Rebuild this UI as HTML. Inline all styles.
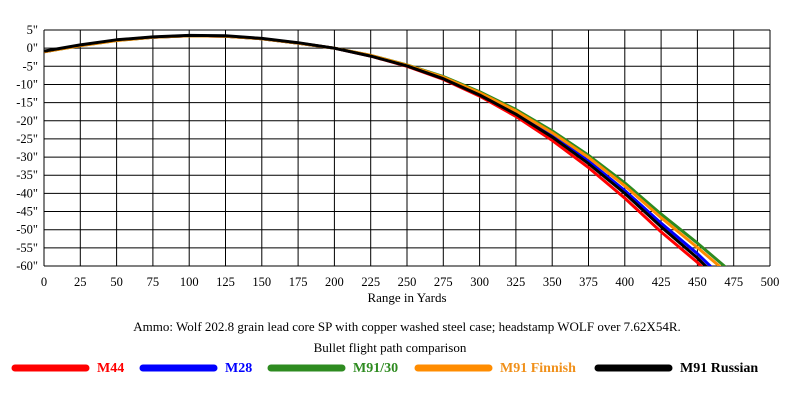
<!DOCTYPE html>
<html><head><meta charset="utf-8"><style>
body{margin:0;background:#fff;}
svg{display:block;font-family:"Liberation Serif",serif;}
</style></head><body>
<svg id="c" width="800" height="400" viewBox="0 0 800 400">
<defs><clipPath id="pc"><rect x="44" y="30" width="726" height="236"/></clipPath></defs>
<g id="grid"></g>
<g id="series" clip-path="url(#pc)"></g>
<g id="axes"></g>
<text x="407" y="302" text-anchor="middle" font-size="13">Range in Yards</text>
<text x="407" y="331" text-anchor="middle" font-size="13">Ammo:  Wolf 202.8 grain lead core SP with copper washed steel case; headstamp WOLF over 7.62X54R.</text>
<text x="390" y="352" text-anchor="middle" font-size="13">Bullet flight path comparison</text>
<g id="legend"></g>
</svg>
<script>
const yards=[0,25,50,75,100,125,150,175,200,225,250,275,300,325,350,375,400,425,450,475];
const xTicks=[0,25,50,75,100,125,150,175,200,225,250,275,300,325,350,375,400,425,450,475,500];
const yTicks=[5,0,-5,-10,-15,-20,-25,-30,-35,-40,-45,-50,-55,-60];
const seriesNames=["M44","M28","M91/30","M91 Finnish","M91 Russian"];
const seriesColors=["#ff0000","#0000ff","#2e8b20","#ff8c00","#000000"];
const m44=[-1,0.8,2.2,3,3.4,3.3,2.6,1.4,0,-2.2,-5,-8.6,-13.2,-18.8,-25.4,-32.9,-41.3,-50.6,-59,-69];
const m28=[-1,0.8,2.2,3,3.4,3.3,2.6,1.4,0,-2.1,-4.8,-8.3,-12.7,-17.9,-24,-31.1,-39.2,-48.2,-56.6,-66.2];
const m9130=[-1,0.7,2.1,3,3.4,3.3,2.6,1.4,0,-2,-4.6,-7.8,-12,-16.9,-22.8,-29.5,-37.1,-45.7,-53.7,-62.2];
const m91fin=[-1,0.7,2.1,3,3.4,3.3,2.6,1.4,0,-2,-4.7,-8,-12.3,-17.3,-23.3,-30.1,-37.9,-46.7,-54.9,-63.4];
const m91rus=[-0.8,0.9,2.3,3.1,3.5,3.4,2.7,1.5,0,-2.2,-4.9,-8.4,-12.9,-18.2,-24.5,-31.8,-40,-49.2,-57.8,-67.6];
const allSeries=[m44,m28,m9130,m91fin,m91rus];
const NS="http://www.w3.org/2000/svg";
const X0=44,X1=770,Y0=30,Y1=266;
const xs=v=>X0+(v/500)*(X1-X0);
const ys=v=>Y0+((5-v)/65)*(Y1-Y0);
function mk(t,a,p){const e=document.createElementNS(NS,t);for(const k in a)e.setAttribute(k,a[k]);p.appendChild(e);return e;}
const grid=document.getElementById('grid'),axes=document.getElementById('axes'),ser=document.getElementById('series'),leg=document.getElementById('legend');
xTicks.forEach(t=>{const l=mk('line',{x1:xs(t),x2:xs(t),y1:Y0,y2:Y1,stroke:'#000','stroke-width':1},grid);


const tx=mk('text',{x:xs(t),y:286,'text-anchor':'middle','font-size':12.5},axes);tx.textContent=t;

});
yTicks.forEach(t=>{const l=mk('line',{x1:X0,x2:X1,y1:ys(t),y2:ys(t),stroke:'#000','stroke-width':1},grid);


const tx=mk('text',{x:38,y:ys(t)+4,'text-anchor':'end','font-size':12.5},axes);tx.textContent=t+'"';

});
allSeries.forEach((s,i)=>{const d=s.map((v,j)=>(j?'L':'M')+xs(yards[j]).toFixed(1)+','+ys(v).toFixed(1)).join(' ');
const p=mk('path',{d:d,fill:'none',stroke:seriesColors[i],'stroke-width':3,'stroke-linejoin':'round'},ser);

});
const legX=[12,140,268,415,595];
seriesNames.forEach((n,i)=>{const l=mk('line',{x1:legX[i]+3,x2:legX[i]+74,y1:368,y2:368,stroke:seriesColors[i],'stroke-width':7,'stroke-linecap':'round'},leg);


const t=mk('text',{x:legX[i]+85,y:372,'font-size':14,'font-weight':'bold',fill:i==4?'#000':(i==3?'#f0901a':seriesColors[i])},leg);t.textContent=n;

});
</script>
</body></html>
